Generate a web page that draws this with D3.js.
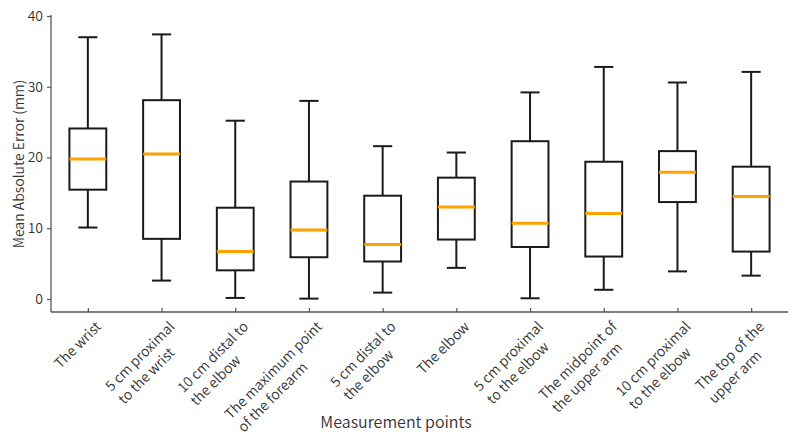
<!DOCTYPE html>
<html>
<head>
<meta charset="utf-8">
<script src="https://cdn.jsdelivr.net/npm/d3@7"></script>
<style>
  html, body { margin: 0; padding: 0; background: #fff; }
  svg { display: block; }
  text { font-family: "Noto Sans CJK JP", "Noto Sans", sans-serif; font-weight: 350; }
</style>
</head>
<body>
<svg id="chart" width="800" height="444"></svg>
<script>
// ---- data ----
const categories = [
  "The wrist",
  "5 cm proximal\nto the wrist",
  "10 cm distal to\nthe elbow",
  "The maximum point\nof the forearm",
  "5 cm distal to\nthe elbow",
  "The elbow",
  "5 cm proximal\nto the elbow",
  "The midpoint of\nthe upper arm",
  "10 cm proximal\nto the elbow",
  "The top of the\nupper arm"
];
const whiskerLow  = [10.1,  2.6,  0.15, 0.05, 0.9,  4.4,  0.1,  1.3,  3.9,  3.3];
const q1          = [15.45, 8.5,  4.05, 5.9,  5.3,  8.4,  7.35, 6.0,  13.7, 6.7];
const median      = [19.8,  20.5, 6.7,  9.75, 7.7,  13.0, 10.7, 12.1, 17.9, 14.5];
const q3          = [24.1,  28.1, 12.9, 16.6, 14.6, 17.15,22.3, 19.4, 20.9, 18.7];
const whiskerHigh = [37.0,  37.4, 25.2, 28.0, 21.6, 20.7, 29.2, 32.8, 30.6, 32.1];
const yTicks = [0, 10, 20, 30, 40];
const yLabel = "Mean Absolute Error (mm)";
const xLabel = "Measurement points";

// ---- layout ----
const svg = d3.select("#chart");
const mLeft = 51, mRight = 788, mTop = 16, mBottom = 312;
const axisColor = "#555";
const textColor = "#333";

const x = d3.scalePoint().domain(categories).range([mLeft, mRight]).padding(0.5);
const y = d3.scaleLinear().domain([-1.84, 40]).range([mBottom, mTop]);
const step = x.step();
const boxW = step * 0.5;
const capW = step * 0.26;

const data = categories.map((c, i) => ({
  c, lo: whiskerLow[i], q1: q1[i], med: median[i], q3: q3[i], hi: whiskerHigh[i]
}));

// ---- axes ----
const yAxis = d3.axisLeft(y).tickValues(yTicks).tickSize(4).tickPadding(4).tickFormat(d3.format("d"));
const gy = svg.append("g").attr("transform", `translate(${mLeft},0)`).call(yAxis);
gy.select(".domain").attr("stroke", axisColor).attr("stroke-width", 1.3)
  .attr("d", `M0,${mTop - 1}V${mBottom}`);
gy.selectAll(".tick line").attr("stroke", axisColor).attr("stroke-width", 1.2);
gy.selectAll(".tick text").attr("fill", textColor).attr("font-size", 14)
  .style("font-family", '"Noto Sans CJK JP", sans-serif').style("font-weight", 350);

const xAxis = d3.axisBottom(x).tickSize(-4).tickFormat("");
const gx = svg.append("g").attr("transform", `translate(0,${mBottom})`).call(xAxis);
gx.select(".domain").attr("stroke", axisColor).attr("stroke-width", 1.3)
  .attr("d", `M${mLeft},0H${mRight}`);
gx.selectAll(".tick line").attr("stroke", axisColor).attr("stroke-width", 1.2);

// rotated multi-line tick labels (lines left-aligned, first line ends near the tick)
const fs = 14, ls = 18.4;
const labelG = svg.append("g");
categories.forEach(c => {
  const lines = c.split("\n");
  const lg = labelG.append("g")
    .attr("transform", `translate(${x(c) + 7},${mBottom + 8.5}) rotate(-45)`);
  const t = lg.selectAll("text").data(lines).join("text")
    .attr("font-size", fs).attr("fill", textColor)
    .attr("y", (d, k) => 10 + k * ls)
    .text(d => d);
  const w0 = t.nodes()[0].getComputedTextLength();
  t.attr("x", -w0);
});

// axis titles
svg.append("text")
  .attr("transform", `translate(24,${(mTop + mBottom) / 2}) rotate(-90)`)
  .attr("text-anchor", "middle").attr("font-size", 14).attr("fill", textColor)
  .text(yLabel);
svg.append("text")
  .attr("x", 396).attr("y", 428)
  .attr("text-anchor", "middle").attr("font-size", 16).attr("fill", textColor)
  .text(xLabel);

// ---- boxes ----
const boxColor = "#1a1a1a";
const g = svg.append("g").selectAll("g").data(data).join("g");
// whiskers
g.append("line").attr("x1", d => x(d.c)).attr("x2", d => x(d.c))
  .attr("y1", d => y(d.q3)).attr("y2", d => y(d.hi))
  .attr("stroke", boxColor).attr("stroke-width", 2);
g.append("line").attr("x1", d => x(d.c)).attr("x2", d => x(d.c))
  .attr("y1", d => y(d.q1)).attr("y2", d => y(d.lo))
  .attr("stroke", boxColor).attr("stroke-width", 2);
// caps
g.append("line").attr("x1", d => x(d.c) - capW / 2).attr("x2", d => x(d.c) + capW / 2)
  .attr("y1", d => y(d.hi)).attr("y2", d => y(d.hi))
  .attr("stroke", boxColor).attr("stroke-width", 2);
g.append("line").attr("x1", d => x(d.c) - capW / 2).attr("x2", d => x(d.c) + capW / 2)
  .attr("y1", d => y(d.lo)).attr("y2", d => y(d.lo))
  .attr("stroke", boxColor).attr("stroke-width", 2);
// box
g.append("rect").attr("x", d => x(d.c) - boxW / 2).attr("width", boxW)
  .attr("y", d => y(d.q3)).attr("height", d => y(d.q1) - y(d.q3))
  .attr("fill", "none").attr("stroke", boxColor).attr("stroke-width", 2);
// median
g.append("line").attr("x1", d => x(d.c) - boxW / 2).attr("x2", d => x(d.c) + boxW / 2)
  .attr("y1", d => y(d.med)).attr("y2", d => y(d.med))
  .attr("stroke", "#ffa200").attr("stroke-width", 3);
</script>
</body>
</html>
